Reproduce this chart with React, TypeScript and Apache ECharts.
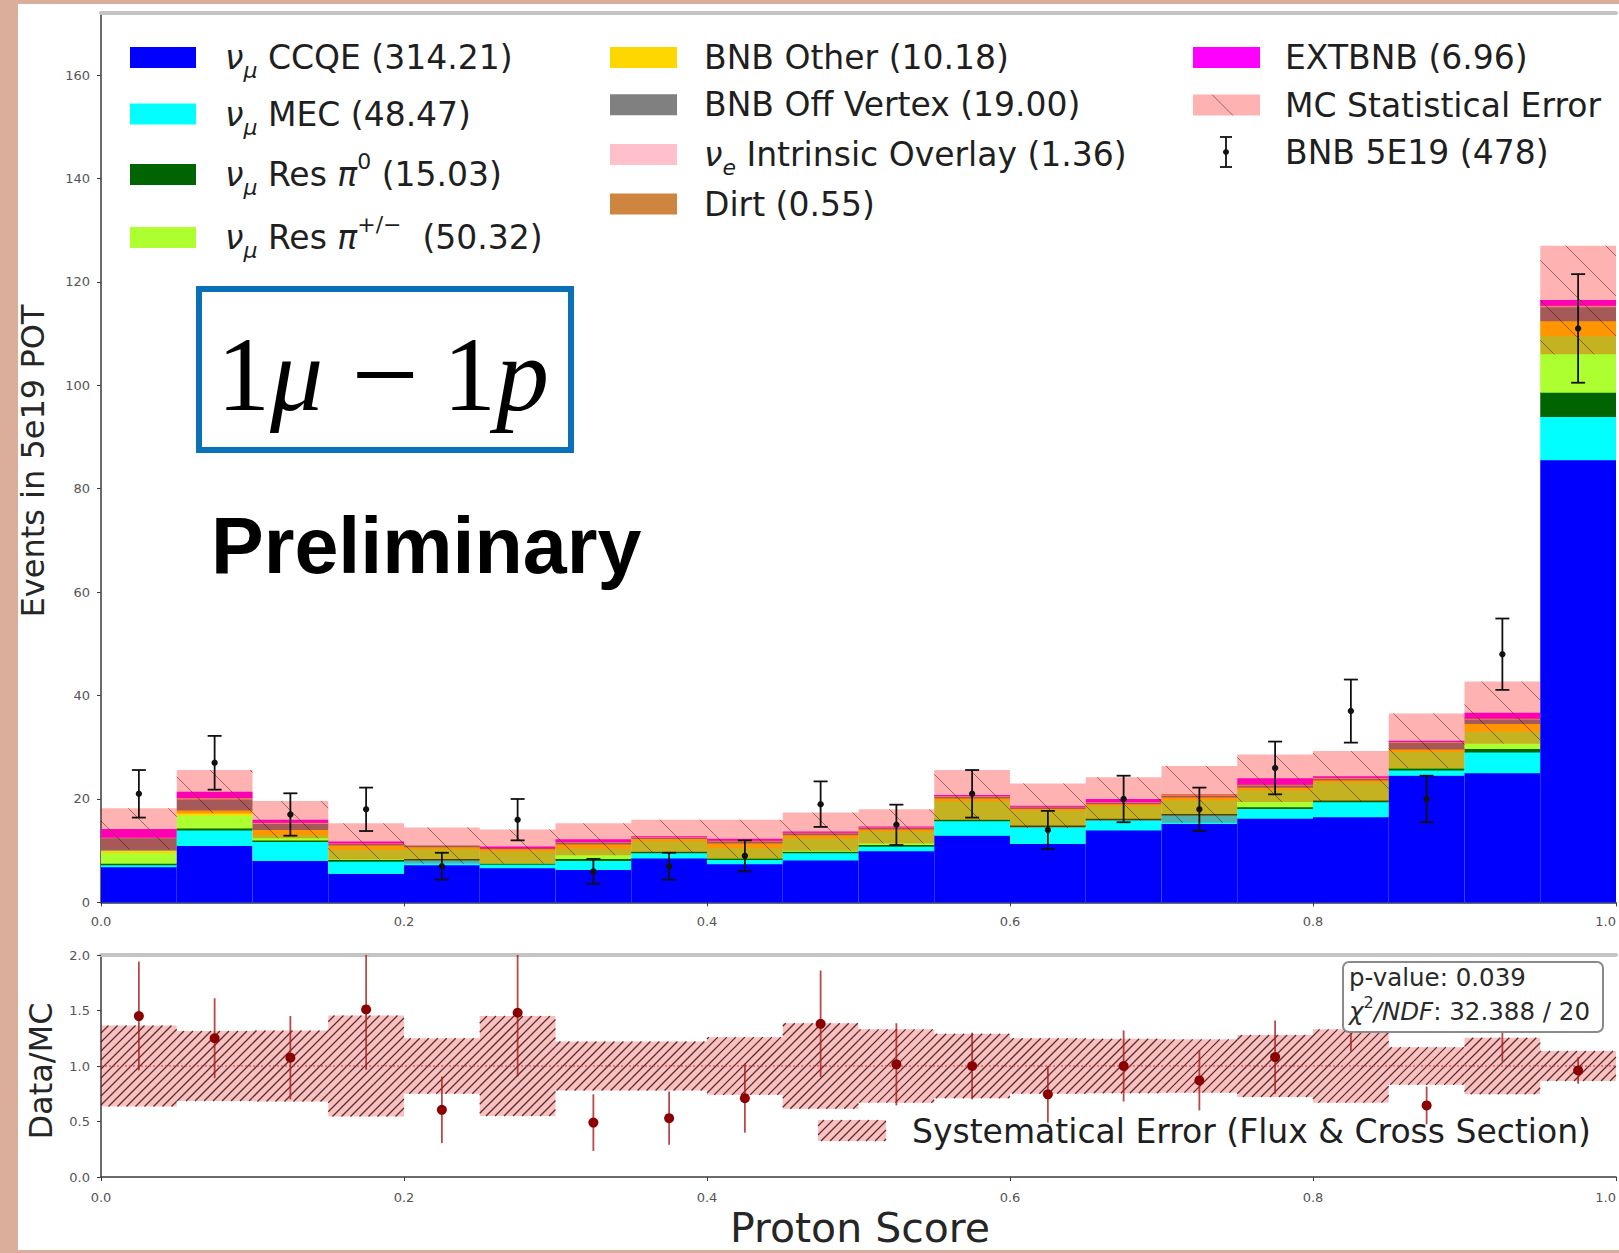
import React, { useEffect, useRef } from 'react';
import * as echarts from 'echarts';

// ---------------- data ----------------
const binLowEdges = [0.0, 0.05, 0.1, 0.15, 0.2, 0.25, 0.3, 0.35, 0.4, 0.45, 0.5, 0.55, 0.6, 0.65, 0.7, 0.75, 0.8, 0.85, 0.9, 0.95];
const binWidth = 0.05;

const numuCCQE = [6.9, 11.0, 8.1, 5.6, 7.3, 6.7, 6.4, 8.6, 7.5, 8.2, 10.0, 13.0, 11.4, 14.0, 15.3, 16.3, 16.6, 24.6, 25.1, 85.6];
const numuMEC = [0.4, 3.0, 3.7, 2.4, 0.9, 0.7, 1.7, 1.0, 0.8, 1.4, 0.9, 2.8, 3.3, 2.0, 1.6, 1.9, 2.9, 1.0, 4.0, 8.4];
const numuResPi0 = [0.3, 0.4, 0.3, 0.3, 0.3, 0.2, 0.4, 0.3, 0.3, 0.3, 0.3, 0.3, 0.3, 0.3, 0.3, 0.3, 0.3, 0.4, 0.7, 4.7];
const numuResPiC = [2.0, 2.5, 1.0, 2.0, 1.9, 2.3, 2.0, 2.0, 2.0, 2.6, 2.6, 3.6, 2.8, 2.4, 2.6, 3.3, 3.5, 3.2, 3.3, 10.9];
const bnbOther = [0.5, 1.0, 1.0, 0.8, 0.4, 0.5, 0.8, 0.5, 0.9, 0.6, 0.4, 0.5, 0.4, 0.4, 0.6, 0.5, 0.4, 0.5, 1.5, 2.9];
const bnbOffVertex = [2.4, 2.1, 1.2, 0.3, 0.2, 0.2, 0.4, 0.2, 0.4, 0.4, 0.3, 0.3, 0.3, 0.3, 0.3, 0.4, 0.3, 1.3, 0.9, 2.7];
const nueIntrinsic = [0.1, 0.2, 0.1, 0.1, 0.0, 0.0, 0.1, 0.1, 0.1, 0.1, 0.1, 0.1, 0.1, 0.1, 0.1, 0.1, 0.1, 0.1, 0.1, 0.2];
const dirt = [0.0, 0.1, 0.1, 0.0, 0.0, 0.0, 0.0, 0.0, 0.1, 0.0, 0.0, 0.1, 0.0, 0.0, 0.1, 0.1, 0.1, 0.05, 0.1, 0.1];
const extBNB = [1.6, 1.1, 0.5, 0.3, 0.0, 0.2, 0.4, 0.1, 0.2, 0.1, 0.1, 0.05, 0.1, 0.5, 0.0, 1.1, 0.2, 0.1, 1.0, 1.0];

const mcStatError = [4.0, 4.2, 3.6, 3.5, 3.5, 3.3, 3.1, 3.2, 3.7, 3.7, 3.3, 4.85, 4.3, 4.2, 5.5, 4.6, 4.9, 5.3, 6.0, 10.5];

const dataBNB = [21, 27, 17, 18, 7, 16, 6, 7, 9, 19, 15, 21, 14, 20, 18, 26, 37, 20, 48, 111];
const dataError = [4.6, 5.2, 4.1, 4.2, 2.6, 4.0, 2.4, 2.6, 3.0, 4.4, 3.9, 4.6, 3.7, 4.5, 4.2, 5.1, 6.1, 4.5, 6.9, 10.5];

const ratioValues = [1.45, 1.25, 1.075, 1.51, 0.605, 1.48, 0.49, 0.53, 0.71, 1.38, 1.015, 1.0, 0.745, 1.0, 0.87, 1.08, 1.52, 0.645, 1.34, 0.96];
const ratioErrors = [0.49, 0.36, 0.375, 0.545, 0.3, 0.575, 0.255, 0.24, 0.31, 0.48, 0.37, 0.3, 0.255, 0.32, 0.27, 0.33, 0.39, 0.17, 0.3, 0.12];
const systematicError = [0.365, 0.315, 0.32, 0.455, 0.25, 0.45, 0.22, 0.22, 0.26, 0.385, 0.33, 0.29, 0.25, 0.245, 0.24, 0.28, 0.33, 0.17, 0.255, 0.135];

const xTickValues = [0, 0.2, 0.4, 0.6, 0.8, 1.0];
const yTickValues = [0, 20, 40, 60, 80, 100, 120, 140, 160];
const ratioTickValues = [0, 0.5, 1.0, 1.5, 2.0];
const unityRatio = 1.0;

const pValueText = 'p-value: 0.039';
const chi2Text = ': 32.388 / 20';

// ---------------- styles / layout ----------------
const W = 1619;
const H = 1253;
const PLOT_L = 101;
const PLOT_R = 1616;
const TOP_T = 13;
const TOP_B = 902.4;
const RAT_T = 955;
const RAT_B = 1177;
const Y_MAX = 172;
const R_MAX = 2.0;

const stackValues = [numuCCQE, numuMEC, numuResPi0, numuResPiC, bnbOther, bnbOffVertex, nueIntrinsic, dirt, extBNB];
const stackColors = ['#0000ff', '#00ffff', '#006400', '#adff2f', '#ffd700', '#808080', '#ffc0cb', '#cd853f', '#ff00ff'];

const mcTotals = binLowEdges.map((_, i) => stackValues.reduce((s, arr) => s + arr[i], 0));

const FONT = 'DejaVu Sans';
const TXT = '#1f1f1f';

function hatchLines(x0: number, y0: number, x1: number, y1: number, spacing: number, dir: 'back' | 'fwd', stroke: string, lw: number) {
  const out: any[] = [];
  if (dir === 'back') {
    const cMin = x0 - y1;
    const cMax = x1 - y0;
    for (let k = Math.ceil(cMin / spacing); k * spacing <= cMax; k++) {
      const c = k * spacing;
      const ya = Math.max(y0, x0 - c);
      const yb = Math.min(y1, x1 - c);
      if (yb - ya > 0.3) out.push({ type: 'line', silent: true, shape: { x1: ya + c, y1: ya, x2: yb + c, y2: yb }, style: { stroke, lineWidth: lw } });
    }
  } else {
    const cMin = x0 + y0;
    const cMax = x1 + y1;
    for (let k = Math.ceil(cMin / spacing); k * spacing <= cMax; k++) {
      const c = k * spacing;
      const ya = Math.max(y0, c - x1);
      const yb = Math.min(y1, c - x0);
      if (yb - ya > 0.3) out.push({ type: 'line', silent: true, shape: { x1: c - ya, y1: ya, x2: c - yb, y2: yb }, style: { stroke, lineWidth: lw } });
    }
  }
  return out;
}

function renderStack(params: any, api: any) {
  const i = params.dataIndex;
  const x0 = binLowEdges[i];
  const x1 = x0 + binWidth;
  let base = 0;
  const children: any[] = [];
  for (let k = 0; k < stackValues.length; k++) {
    const v = stackValues[k][i];
    if (!(v > 0)) continue;
    const a = api.coord([x0, base + v]);
    const b = api.coord([x1, base]);
    children.push({
      type: 'rect',
      shape: { x: a[0], y: a[1], width: b[0] - a[0], height: b[1] - a[1] + (base > 0 ? 0.6 : 0) },
      style: { fill: stackColors[k] },
    });
    base += v;
  }
  return { type: 'group', children };
}

function renderMCBand(params: any, api: any) {
  const i = params.dataIndex;
  const x0 = binLowEdges[i];
  const x1 = x0 + binWidth;
  const a = api.coord([x0, mcTotals[i] + mcStatError[i]]);
  const b = api.coord([x1, mcTotals[i] - mcStatError[i]]);
  const children: any[] = [
    { type: 'rect', shape: { x: a[0], y: a[1], width: b[0] - a[0], height: b[1] - a[1] }, style: { fill: 'rgba(255,0,0,0.3)' } },
  ];
  return { type: 'group', children: children.concat(hatchLines(a[0], a[1], b[0], b[1], 40, 'back', 'rgba(40,0,0,0.45)', 1)) };
}

function renderData(params: any, api: any) {
  const i = params.dataIndex;
  const xc = binLowEdges[i] + binWidth / 2;
  const p = api.coord([xc, dataBNB[i]]);
  const t = api.coord([xc, dataBNB[i] + dataError[i]]);
  const b = api.coord([xc, dataBNB[i] - dataError[i]]);
  const st = () => ({ stroke: '#111', lineWidth: 1.8 });
  return {
    type: 'group',
    children: [
      { type: 'line', shape: { x1: p[0], y1: t[1], x2: p[0], y2: b[1] }, style: st() },
      { type: 'line', shape: { x1: p[0] - 7, y1: t[1], x2: p[0] + 7, y2: t[1] }, style: st() },
      { type: 'line', shape: { x1: p[0] - 7, y1: b[1], x2: p[0] + 7, y2: b[1] }, style: st() },
      { type: 'circle', shape: { cx: p[0], cy: p[1], r: 3.2 }, style: { fill: '#111' } },
    ],
  };
}

function renderSysBand(params: any, api: any) {
  const i = params.dataIndex;
  const x0 = binLowEdges[i];
  const x1 = x0 + binWidth;
  const a = api.coord([x0, unityRatio + systematicError[i]]);
  const b = api.coord([x1, unityRatio - systematicError[i]]);
  const children: any[] = [
    { type: 'rect', shape: { x: a[0], y: a[1], width: b[0] - a[0], height: b[1] - a[1] }, style: { fill: 'rgba(255,0,0,0.25)' } },
  ];
  return { type: 'group', children: children.concat(hatchLines(a[0], a[1], b[0], b[1], 9, 'fwd', 'rgba(40,30,30,0.85)', 1.3)) };
}

function renderRatio(params: any, api: any) {
  const i = params.dataIndex;
  const xc = binLowEdges[i] + binWidth / 2;
  const r = ratioValues[i];
  const e = ratioErrors[i];
  const p = api.coord([xc, r]);
  const t = api.coord([xc, Math.min(r + e, R_MAX)]);
  const b = api.coord([xc, Math.max(r - e, 0)]);
  return {
    type: 'group',
    children: [
      { type: 'line', shape: { x1: p[0], y1: t[1], x2: p[0], y2: b[1] }, style: { stroke: 'rgba(170,25,25,0.8)', lineWidth: 1.8 } },
      { type: 'circle', shape: { cx: p[0], cy: p[1], r: 5 }, style: { fill: '#8b0000' } },
    ],
  };
}

// ---------------- legend texts ----------------
const LF = 33;
const legendRich: any = {
  t: { fontSize: LF, fontFamily: FONT, fill: TXT, color: TXT, lineHeight: 48, verticalAlign: 'middle' },
  m: { fontSize: LF, fontFamily: FONT, fontStyle: 'italic', fill: TXT, color: TXT, lineHeight: 48, verticalAlign: 'middle' },
  sub: { fontSize: 22, fontFamily: FONT, fontStyle: 'italic', fill: TXT, color: TXT, lineHeight: 26, verticalAlign: 'bottom' },
  sup: { fontSize: 22, fontFamily: FONT, fill: TXT, color: TXT, lineHeight: 26, verticalAlign: 'top' },
};

const legendCol1 = [
  '{m|ν}{sub|μ}{t| CCQE (314.21)}',
  '{m|ν}{sub|μ}{t| MEC (48.47)}',
  '{m|ν}{sub|μ}{t| Res }{m|π}{sup|0}{t| (15.03)}',
  '{m|ν}{sub|μ}{t| Res }{m|π}{sup|+/−}{t|  (50.32)}',
];
const legendCol2 = ['{t|BNB Other (10.18)}', '{t|BNB Off Vertex (19.00)}', '{m|ν}{sub|e}{t| Intrinsic Overlay (1.36)}', '{t|Dirt (0.55)}'];
const legendCol3 = ['{t|EXTBNB (6.96)}', '{t|MC Statistical Error}', '{t|BNB 5E19 (478)}'];

function txt(x: number, y: number, text: string, extra: any = {}, elExtra: any = {}) {
  return {
    type: 'text',
    x,
    y,
    z: 50,
    silent: true,
    ...elExtra,
    style: {
      text,
      fontFamily: FONT,
      fontSize: 32,
      fill: TXT,
      align: 'left',
      textAlign: 'left',
      verticalAlign: 'middle',
      textVerticalAlign: 'middle',
      ...extra,
    },
  };
}

function buildGraphics() {
  const els: any[] = [];
  // white figure background
  els.push({ type: 'rect', z: -100, silent: true, shape: { x: 18, y: 4, width: W - 18, height: 1246 }, style: { fill: '#ffffff' } });

  const col1Y = [57.5, 114, 174.5, 237.5];
  const col2Y = [57.5, 104.7, 154.5, 204];
  const col3Y = [57.5, 105, 152];
  legendCol1.forEach((s, k) => {
    els.push({ type: 'rect', z: 50, shape: { x: 130, y: col1Y[k] - 10.5, width: 66, height: 21 }, style: { fill: stackColors[k] } });
    els.push(txt(225, col1Y[k], s, { rich: legendRich }));
  });
  legendCol2.forEach((s, k) => {
    els.push({ type: 'rect', z: 50, shape: { x: 610, y: col2Y[k] - 10.5, width: 67, height: 21 }, style: { fill: stackColors[4 + k] } });
    els.push(txt(704, col2Y[k], s, { rich: legendRich }));
  });
  // EXTBNB
  els.push({ type: 'rect', z: 50, shape: { x: 1193, y: col3Y[0] - 10.5, width: 67, height: 21 }, style: { fill: stackColors[8] } });
  // MC stat error patch
  els.push({ type: 'rect', z: 50, shape: { x: 1193, y: col3Y[1] - 10.5, width: 67, height: 21 }, style: { fill: 'rgba(255,0,0,0.3)' } });
  els.push({ type: 'line', z: 51, shape: { x1: 1212, y1: col3Y[1] - 10.5, x2: 1233, y2: col3Y[1] + 10.5 }, style: { stroke: 'rgba(40,0,0,0.45)', lineWidth: 1 } });
  // data marker
  const ex = 1226;
  const et = col3Y[2] - 15;
  const eb = col3Y[2] + 15;
  els.push({ type: 'line', z: 51, shape: { x1: ex, y1: et, x2: ex, y2: eb }, style: { stroke: '#111', lineWidth: 1.8 } });
  els.push({ type: 'line', z: 51, shape: { x1: ex - 6, y1: et, x2: ex + 6, y2: et }, style: { stroke: '#111', lineWidth: 1.8 } });
  els.push({ type: 'line', z: 51, shape: { x1: ex - 6, y1: eb, x2: ex + 6, y2: eb }, style: { stroke: '#111', lineWidth: 1.8 } });
  els.push({ type: 'circle', z: 51, shape: { cx: ex, cy: col3Y[2], r: 3 }, style: { fill: '#111' } });
  legendCol3.forEach((s, k) => els.push(txt(1285, col3Y[k], s, { rich: legendRich })));

  // 1mu - 1p box
  els.push({ type: 'rect', z: 50, shape: { x: 199, y: 289, width: 372, height: 161 }, style: { fill: 'none', stroke: '#0a70b8', lineWidth: 6 } });
  const serif = 'Liberation Serif';
  const boxRich: any = {
    u: { fontFamily: serif, fontSize: 106, fill: '#000', lineHeight: 124 },
    i: { fontFamily: serif, fontSize: 106, fontStyle: 'italic', fill: '#000', lineHeight: 124 },
    m: { fontFamily: serif, fontSize: 120, fill: '#000', lineHeight: 124 },
    s1: { fontFamily: serif, fontSize: 106, width: 28, lineHeight: 124 },
    s2: { fontFamily: serif, fontSize: 106, width: 24, lineHeight: 124 },
  };
  els.push(txt(217, 374, '{u|1}{i|μ}{s1| }{m|−}{s2| }{u|1}{i|p}', { rich: boxRich }));

  // Preliminary
  els.push(txt(211, 545, 'Preliminary', { fontFamily: 'Liberation Sans', fontWeight: 'bold', fontSize: 79, fill: '#000' }));

  // axis titles
  els.push(txt(0, 0, 'Events in 5e19 POT', { fontSize: 32, align: 'center', textAlign: 'center', fill: '#262626' }, { x: 33, y: 461, rotation: Math.PI / 2 }));
  els.push(txt(0, 0, 'Data/MC', { fontSize: 32, align: 'center', textAlign: 'center', fill: '#262626' }, { x: 41, y: 1071, rotation: Math.PI / 2 }));
  els.push(txt(860, 1228, 'Proton Score', { fontSize: 41, align: 'center', textAlign: 'center', fill: '#262626' }));

  // systematic error legend
  const sx0 = 818;
  const sy0 = 1120;
  const sx1 = 886;
  const sy1 = 1141;
  els.push({ type: 'rect', z: 50, shape: { x: sx0, y: sy0, width: sx1 - sx0, height: sy1 - sy0 }, style: { fill: 'rgba(255,0,0,0.25)' } });
  hatchLines(sx0, sy0, sx1, sy1, 9, 'fwd', 'rgba(40,30,30,0.85)', 1.3).forEach((l) => els.push({ ...l, z: 51 }));
  els.push(txt(912, 1131, 'Systematical Error (Flux & Cross Section)', { fontSize: 33 }));

  // p-value box
  els.push({ type: 'rect', z: 200, shape: { x: 1343, y: 962, width: 260, height: 70, r: 6 }, style: { fill: '#ffffff', stroke: '#8a8a8a', lineWidth: 2 } });
  const pr: any = {
    t: { fontSize: 24.5, fontFamily: FONT, fill: '#2a2a2a', lineHeight: 34, verticalAlign: 'middle' },
    m: { fontSize: 24.5, fontFamily: FONT, fontStyle: 'italic', fill: '#2a2a2a', lineHeight: 34, verticalAlign: 'middle' },
    sup: { fontSize: 16, fontFamily: FONT, fill: '#2a2a2a', lineHeight: 18, verticalAlign: 'top' },
  };
  els.push({ ...txt(1349, 977, '{t|' + pValueText + '}', { rich: pr }), z: 201 });
  els.push({ ...txt(1349, 1011, '{m|χ}{sup|2}{m|/NDF}{t|' + chi2Text + '}', { rich: pr }), z: 201 });
  return els;
}

const tickLabel = { fontFamily: FONT, fontSize: 13, color: '#555' };

function buildOption() {
  const binIdx = binLowEdges.map((x, i) => [x + binWidth / 2, mcTotals[i]]);
  const ratioIdx = binLowEdges.map((x, i) => [x + binWidth / 2, ratioValues[i]]);
  const baseX = (gridIndex: number, margin: number) => ({
    gridIndex,
    type: 'value',
    min: 0,
    max: 1,
    interval: 0.2,
    axisLine: { show: true, onZero: false, lineStyle: { color: '#3a3a3a', width: 1.5 } },
    axisTick: { show: true, length: 4, customValues: xTickValues, lineStyle: { color: '#3a3a3a' } },
    axisLabel: { ...tickLabel, margin, customValues: xTickValues, alignMaxLabel: 'right', formatter: (v: number) => v.toFixed(1) },
    splitLine: { show: false },
  });
  const topSpine = (gridIndex: number) => ({
    gridIndex,
    type: 'value',
    position: 'top',
    min: 0,
    max: 1,
    axisLine: { show: true, onZero: false, lineStyle: { color: '#c4c4c4', width: 4 } },
    axisTick: { show: false },
    axisLabel: { show: false },
    splitLine: { show: false },
  });
  return {
    animation: false,
    backgroundColor: '#dbae9b',
    textStyle: { fontFamily: FONT },
    grid: [
      { left: PLOT_L, right: W - PLOT_R, top: TOP_T, height: TOP_B - TOP_T, containLabel: false, outerBoundsMode: 'none' },
      { left: PLOT_L, right: W - PLOT_R, top: RAT_T, height: RAT_B - RAT_T, containLabel: false, outerBoundsMode: 'none' },
    ],
    xAxis: [baseX(0, 13), baseX(1, 14), topSpine(0), topSpine(1)],
    yAxis: [
      {
        gridIndex: 0,
        type: 'value',
        min: 0,
        max: Y_MAX,
        interval: 20,
        axisLine: { show: true, onZero: false, lineStyle: { color: '#3a3a3a', width: 1.5 } },
        axisTick: { show: true, length: 4, customValues: yTickValues, lineStyle: { color: '#3a3a3a' } },
        axisLabel: { ...tickLabel, margin: 11, customValues: yTickValues },
        splitLine: { show: false },
      },
      {
        gridIndex: 1,
        type: 'value',
        min: 0,
        max: R_MAX,
        interval: 0.5,
        axisLine: { show: true, onZero: false, lineStyle: { color: '#3a3a3a', width: 1.5 } },
        axisTick: { show: true, length: 4, customValues: ratioTickValues, lineStyle: { color: '#3a3a3a' } },
        axisLabel: { ...tickLabel, margin: 11, customValues: ratioTickValues, formatter: (v: number) => v.toFixed(1) },
        splitLine: { show: false },
      },
    ],
    series: [
      { type: 'custom', name: 'MC stack', xAxisIndex: 0, yAxisIndex: 0, z: 2, silent: true, renderItem: renderStack, data: binIdx, encode: { x: 0, y: 1 } },
      { type: 'custom', name: 'MC Statistical Error', xAxisIndex: 0, yAxisIndex: 0, z: 3, silent: true, renderItem: renderMCBand, data: binIdx, encode: { x: 0, y: 1 } },
      { type: 'custom', name: 'BNB 5E19', xAxisIndex: 0, yAxisIndex: 0, z: 4, silent: true, renderItem: renderData, data: binIdx, encode: { x: 0, y: 1 } },
      { type: 'custom', name: 'Systematical Error', xAxisIndex: 1, yAxisIndex: 1, z: 2, silent: true, renderItem: renderSysBand, data: ratioIdx, encode: { x: 0, y: 1 } },
      {
        type: 'line',
        name: 'unity',
        xAxisIndex: 1,
        yAxisIndex: 1,
        z: 3,
        silent: true,
        symbol: 'none',
        data: [[0, unityRatio], [1, unityRatio]],
        lineStyle: { color: 'rgba(215,60,60,0.75)', width: 1.5, type: [2, 2] },
      },
      { type: 'custom', name: 'Data/MC', xAxisIndex: 1, yAxisIndex: 1, z: 4, silent: true, clip: true, renderItem: renderRatio, data: ratioIdx, encode: { x: 0, y: 1 } },
    ],
    graphic: { elements: buildGraphics() },
  };
}

export default function App() {
  const ref = useRef<HTMLDivElement>(null);
  useEffect(() => {
    if (!ref.current) return;
    const chart = echarts.init(ref.current, null, { renderer: 'svg', width: W, height: H });
    chart.setOption(buildOption() as any);
    return () => chart.dispose();
  }, []);
  return <div ref={ref} style={{ position: 'absolute', left: 0, top: 0, width: W, height: H }} />;
}
